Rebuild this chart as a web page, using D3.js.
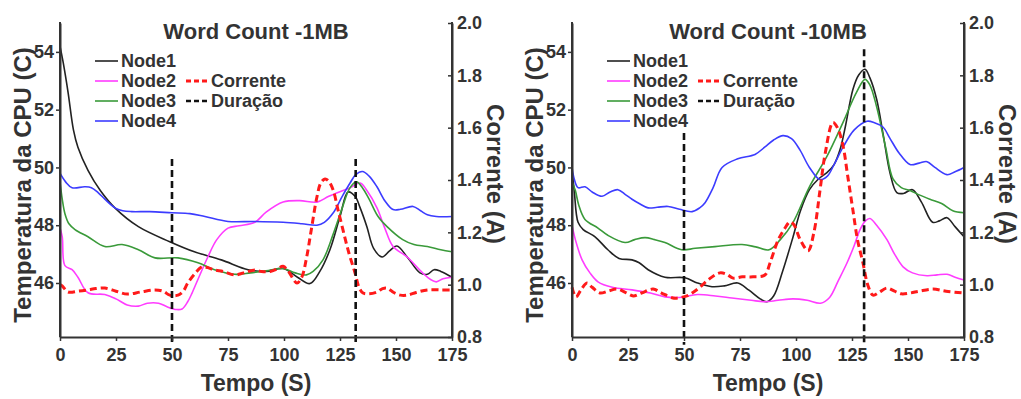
<!DOCTYPE html>
<html><head><meta charset="utf-8">
<script src="https://cdn.jsdelivr.net/npm/d3@7"></script>
<style>
html,body{margin:0;padding:0;background:#fff;}
svg{display:block;}
</style></head>
<body>
<svg id="chart" width="1021" height="399"></svg>
<script>
// ---------- data ----------
const titles = ["Word Count -1MB", "Word Count -10MB"];
const seriesNames = ["Node1", "Node2", "Node3", "Node4"];
const seriesColors = ["#222222", "#ff3cff", "#3a9a3a", "#3c3cff"];
const xTicks = [0, 25, 50, 75, 100, 125, 150, 175];
const tempTicks = [46, 48, 50, 52, 54];
const curTicks = [0.8, 1.0, 1.2, 1.4, 1.6, 1.8, 2.0];

// Word Count -1MB : [time (s), temperature (C)]
const wc1Node1 = [[0,54.2],[1.5,53.6],[3.6,52.6],[6,51.3],[8,50.7],[12.5,49.9],[18,49.2],[24.5,48.6],[35,47.95],[49,47.43],[60,47.08],[72,46.8],[84,46.46],[92,46.4],[99.6,46.5],[106,46.2],[111.6,45.98],[116,46.4],[120.5,47.15],[125,48.3],[128.6,49.15],[131.7,49.0],[134,48.6],[137,47.95],[140,47.2],[143.8,46.9],[147,47.1],[150.4,47.28],[155,46.9],[160.7,46.35],[164,46.3],[167,46.46],[170,46.4],[175,46.2]];
const wc1Node2 = [[0,47.9],[1,47.6],[2.2,46.6],[5.4,46.46],[8,46.2],[12.5,45.66],[20,45.6],[25,45.45],[30,45.24],[35,45.2],[39,45.3],[44,45.3],[48,45.17],[52,45.08],[54.5,45.1],[57,45.35],[59,45.66],[62,46.2],[66,46.9],[70,47.5],[75,47.9],[80,47.98],[87,48.1],[92,48.45],[99.6,48.8],[107,48.85],[114.7,48.8],[120,49.0],[129.5,49.3],[134,49.46],[137,49.2],[141.5,48.6],[145,47.9],[148.7,47.26],[155,46.9],[160,46.5],[164,46.2],[168,46.04],[171,46.15],[175,46.2]];
const wc1Node3 = [[0,49.5],[1,48.9],[2.2,48.4],[4,48.05],[6.7,47.85],[12.5,47.6],[20,47.26],[27.7,47.33],[35,47.15],[42.4,46.87],[52.7,46.87],[61.6,46.7],[69,46.46],[78,46.3],[85,46.35],[92,46.42],[99.6,46.5],[105,46.35],[110,46.28],[113,46.4],[117.4,46.8],[122,47.7],[126,48.6],[129.5,49.3],[132.4,49.5],[135,49.3],[138,48.9],[142,48.3],[146,47.95],[153,47.5],[158,47.33],[164,47.26],[170,47.15],[175,47.08]];
const wc1Node4 = [[0,49.8],[2.5,49.5],[5.4,49.3],[11,49.33],[14,49.3],[17,49.13],[20,48.9],[24.5,48.6],[28,48.5],[32,48.47],[40,48.47],[50,48.43],[58,48.4],[64.7,48.3],[75,48.13],[87,48.13],[99.6,48.1],[108,48.05],[114.7,48.0],[118,48.1],[122,48.43],[126,49.0],[129.5,49.46],[132,49.75],[135,49.86],[138,49.7],[141.5,49.33],[145,48.85],[148.7,48.54],[152,48.55],[157.6,48.65],[161,48.5],[164,48.36],[168,48.3],[175,48.3]];
// Word Count -1MB : [time (s), current (A)]
const wc1Current = [[0,1.0],[1,0.995],[3.6,0.972],[8,0.975],[12.5,0.98],[16,0.985],[20,0.987],[25,0.975],[30,0.964],[36,0.972],[42.4,0.98],[46,0.975],[49,0.96],[52.7,0.96],[55,0.975],[57,1.006],[60,1.04],[63.4,1.068],[66,1.065],[69,1.056],[73,1.05],[78,1.037],[82,1.045],[87,1.056],[90,1.05],[93.8,1.05],[97,1.06],[99.6,1.07],[102,1.05],[105.8,1.006],[108,1.03],[110,1.1],[112,1.2],[114.7,1.335],[116.5,1.39],[118.3,1.404],[120,1.395],[122,1.36],[124,1.29],[126.3,1.21],[129,1.12],[131.7,1.045],[133.5,0.99],[135.3,0.968],[138,0.965],[141.5,0.972],[144,0.985],[146,0.987],[149,0.97],[152,0.96],[155,0.96],[159,0.97],[164,0.98],[170,0.98],[175,0.98]];
const wc1Duration = [50, 132];
const wc1DurationTop = [1.48, 1.48];

// Word Count -10MB : [time (s), temperature (C)]
const wc10Node1 = [[0,49.9],[1,49.2],[2.7,48.1],[5,47.85],[10.3,47.6],[16,47.15],[21,46.85],[26.8,46.8],[30,46.7],[34,46.46],[41.5,46.2],[50.4,46.18],[56,46.0],[62.5,45.87],[68,45.9],[74,46.0],[79,45.75],[84,45.45],[87,45.35],[90,45.55],[94,46.4],[98.7,47.6],[102,48.5],[106,49.23],[110,49.6],[113.8,49.82],[117,50.1],[119.6,50.6],[122,51.4],[125.4,52.7],[128,53.2],[130.8,53.4],[133,53.1],[136,52.36],[139,51.1],[142,49.8],[145,49.13],[148,49.1],[152,49.23],[156,48.8],[161,48.1],[164,48.15],[167.4,48.26],[171,47.95],[175,47.6]];
const wc10Node2 = [[0,48.0],[1.5,47.5],[4.5,46.8],[8,46.35],[11.6,46.04],[18,45.85],[26.8,45.76],[35,45.65],[41.5,45.52],[48,45.5],[56,45.6],[64,45.55],[71.4,45.48],[80,45.4],[86,45.35],[92,45.4],[98.7,45.45],[105,45.4],[111,45.3],[115,45.5],[119,46.1],[122.8,46.7],[126,47.3],[128.6,47.85],[131,48.15],[133,48.23],[136,48.0],[140.6,47.5],[144,47.0],[147.8,46.56],[152,46.35],[158.5,46.25],[163,46.28],[167.4,46.3],[171,46.2],[175,46.1]];
const wc10Node3 = [[0,49.5],[1.5,49.2],[3,48.7],[5.8,48.2],[11.6,47.9],[16,47.65],[23.7,47.4],[28,47.5],[32.6,47.57],[37,47.5],[41.5,47.4],[49,47.15],[55,47.2],[63.8,47.26],[75.9,47.33],[82,47.25],[88,47.15],[93,47.5],[98.7,48.1],[106,49.33],[113.8,50.38],[121,51.56],[127,52.6],[130.8,53.05],[133,52.85],[136,52.1],[140,50.7],[143.3,49.6],[147,49.3],[150.9,49.2],[155,49.05],[159.8,48.9],[165,48.75],[170,48.5],[175,48.43]];
const wc10Node4 = [[0,50.0],[1,49.6],[2.7,49.3],[5.8,49.33],[9,49.15],[13.4,49.0],[17,49.15],[20.5,49.23],[24,49.05],[26.8,48.9],[30,48.75],[34,48.6],[38,48.62],[42.9,48.65],[48,48.55],[53.6,48.47],[57,48.6],[59.4,48.78],[63,49.3],[67,50.0],[74,50.3],[81.7,50.45],[86,50.7],[90,50.95],[94.2,51.1],[98,51.0],[101.8,50.6],[106,50.0],[110.7,49.58],[114,49.7],[117,50.1],[121,50.7],[126,51.3],[131.7,51.6],[135,51.55],[138.8,51.4],[142,51.0],[146,50.5],[150.9,50.1],[155,50.15],[158.5,50.2],[162,50.0],[167.4,49.75],[171,49.85],[175,50.0]];
// Word Count -10MB : [time (s), current (A)]
const wc10Current = [[0,0.99],[1.8,0.953],[4,0.98],[6.7,1.006],[9,0.99],[12.5,0.968],[16,0.975],[20,0.983],[24,0.97],[27.3,0.957],[31,0.968],[36.2,0.983],[40,0.968],[45.1,0.949],[48,0.95],[51.3,0.957],[54,0.97],[57.1,0.99],[61,1.02],[66,1.045],[69,1.04],[71.9,1.025],[76,1.03],[80.8,1.03],[86.1,1.037],[88.4,1.083],[92,1.17],[95,1.215],[97.3,1.24],[99,1.23],[102,1.17],[105.4,1.13],[108,1.2],[110.7,1.36],[113,1.5],[116.5,1.62],[118.5,1.6],[121,1.53],[123,1.42],[125.4,1.285],[127.5,1.17],[129.9,1.083],[132,1.0],[134.4,0.96],[137,0.97],[140.6,0.987],[144,0.975],[147,0.965],[150.9,0.968],[155,0.975],[161.2,0.983],[167,0.975],[175,0.968]];
const wc10Duration = [50, 130.4];
const wc10DurationTop = [1.58, 1.90];

const axisLabels = {x: "Tempo (S)", yLeft: "Temperatura da CPU (C)", yRight: "Corrente (A)"};
const legendCurrent = "Corrente";
const legendDuration = "Duração";

// ---------- drawing ----------
const svg = d3.select("#chart");
const TXT = "#333333";
const FONT = "Arial, 'Liberation Sans', sans-serif";
const NARROW = "'Liberation Sans Narrow', 'Arial Narrow', Arial, sans-serif";

const panels = [
  {x0: 60, title: titles[0], nodes: [wc1Node1, wc1Node2, wc1Node3, wc1Node4], cur: wc1Current, dur: wc1Duration, durTop: wc1DurationTop},
  {x0: 572, title: titles[1], nodes: [wc10Node1, wc10Node2, wc10Node3, wc10Node4], cur: wc10Current, dur: wc10Duration, durTop: wc10DurationTop}
];
const W = 392, yTop = 23, yBot = 337;

panels.forEach(p => {
  const g = svg.append("g").attr("transform", `translate(${p.x0},0)`);
  const x = d3.scaleLinear().domain([0, 175]).range([0, W]);
  const yT = d3.scaleLinear().domain([44.13, 55.0]).range([yBot, yTop]);
  const yC = d3.scaleLinear().domain([0.8, 2.0]).range([yBot, yTop]);

  // node lines
  const lineT = d3.line().x(d => x(d[0])).y(d => yT(d[1])).curve(d3.curveCatmullRom.alpha(0.5));
  p.nodes.forEach((s, i) => {
    g.append("path").datum(s).attr("d", lineT)
      .attr("fill", "none").attr("stroke", seriesColors[i]).attr("stroke-width", 1.6);
  });
  // current
  const lineC = d3.line().x(d => x(d[0])).y(d => yC(d[1])).curve(d3.curveCatmullRom.alpha(0.5));
  g.append("path").datum(p.cur).attr("d", lineC)
    .attr("fill", "none").attr("stroke", "#ff1a1a").attr("stroke-width", 3)
    .attr("stroke-dasharray", "7,4");
  // duration lines
  p.dur.forEach((t, i) => {
    g.append("line").attr("x1", x(t)).attr("x2", x(t))
      .attr("y1", yC(p.durTop[i])).attr("y2", yC(0.77))
      .attr("stroke", "#111").attr("stroke-width", 2.6).attr("stroke-dasharray", "7,4");
  });

  // axes
  const styleAxis = (sel) => {
    sel.select(".domain").attr("stroke", TXT).attr("stroke-width", 2);
    sel.selectAll(".tick line").attr("stroke", TXT).attr("stroke-width", 1.5);
    sel.selectAll("text").attr("fill", TXT).attr("font-family", NARROW)
      .attr("font-weight", "bold").attr("font-size", 18);
  };
  g.append("g").attr("transform", `translate(0,${yBot})`)
    .call(d3.axisBottom(x).tickValues(xTicks).tickFormat(d3.format("d")).tickSize(4).tickSizeOuter(0).tickPadding(7))
    .call(styleAxis);
  g.append("g")
    .call(d3.axisLeft(yT).tickValues(tempTicks).tickFormat(d3.format("d")).tickSize(4).tickSizeOuter(0).tickPadding(2))
    .call(styleAxis);
  g.append("g").attr("transform", `translate(${W},0)`)
    .call(d3.axisRight(yC).tickValues(curTicks).tickFormat(d3.format(".1f")).tickSize(-4).tickSizeOuter(0).tickPadding(5))
    .call(styleAxis);
  // extend left/right axes to top
  g.append("line").attr("x1", 0).attr("x2", 0).attr("y1", yTop - 1).attr("y2", yBot).attr("stroke", TXT).attr("stroke-width", 2);
  g.append("line").attr("x1", W).attr("x2", W).attr("y1", yTop - 1).attr("y2", yBot).attr("stroke", TXT).attr("stroke-width", 2);

  // title
  g.append("text").attr("x", W / 2).attr("y", 39).attr("text-anchor", "middle")
    .attr("font-family", FONT).attr("font-weight", "bold").attr("font-size", 22).attr("fill", TXT)
    .text(p.title);
  // axis labels
  g.append("text").attr("x", W / 2).attr("y", 391).attr("text-anchor", "middle")
    .attr("font-family", FONT).attr("font-weight", "bold").attr("font-size", 23).attr("fill", TXT)
    .text(axisLabels.x);
  g.append("text").attr("transform", `translate(-29,185) rotate(-90)`).attr("text-anchor", "middle")
    .attr("font-family", FONT).attr("font-weight", "bold").attr("font-size", 24).attr("fill", TXT)
    .text(axisLabels.yLeft);
  g.append("text").attr("transform", `translate(${W + 35},174) rotate(90)`).attr("text-anchor", "middle")
    .attr("font-family", FONT).attr("font-weight", "bold").attr("font-size", 24).attr("fill", TXT)
    .text(axisLabels.yRight);

  // legend
  const lg = g.append("g").attr("font-family", FONT).attr("font-weight", "bold").attr("font-size", 18).attr("fill", TXT);
  seriesNames.forEach((n, i) => {
    const by = 67 + i * 20;
    lg.append("line").attr("x1", 35).attr("x2", 58).attr("y1", by - 6).attr("y2", by - 6)
      .attr("stroke", seriesColors[i]).attr("stroke-width", 1.6);
    lg.append("text").attr("x", 61).attr("y", by).text(n);
  });
  const extra = [{name: legendCurrent, color: "#ff1a1a", w: 3}, {name: legendDuration, color: "#111", w: 2.6}];
  extra.forEach((e, i) => {
    const by = 87 + i * 20;
    lg.append("line").attr("x1", 126).attr("x2", 148).attr("y1", by - 6).attr("y2", by - 6)
      .attr("stroke", e.color).attr("stroke-width", e.w).attr("stroke-dasharray", "5,3");
    lg.append("text").attr("x", 151).attr("y", by).text(e.name);
  });
});
</script>
</body></html>
